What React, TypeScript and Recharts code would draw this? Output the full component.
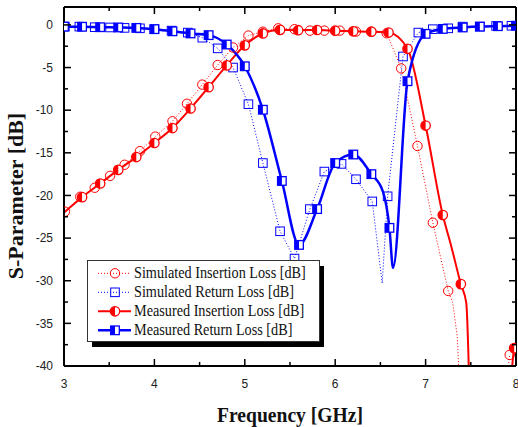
import React from 'react';
import { LineChart, Line, XAxis, YAxis, ReferenceLine, Legend } from 'recharts';

const CHART_W = 518;
const CHART_H = 427;
const PLOT_TOP = 7;
const PLOT_RIGHT = 516;
const Y_MAX = 2.1;

const xTicks = [3, 3.5, 4, 4.5, 5, 5.5, 6, 6.5, 7, 7.5, 8];
const yTicks = [-40, -37.5, -35, -32.5, -30, -27.5, -25, -22.5, -20, -17.5, -15, -12.5, -10, -7.5, -5, -2.5, 0];

const seriesNames = [
  'Simulated Insertion Loss [dB]',
  'Simulated Return Loss [dB]',
  'Measured Insertion Loss [dB]',
  'Measured Return Loss [dB]',
];

// simulated insertion loss (S21)
const simIlFreq = [3.01, 3.18, 3.34, 3.51, 3.67, 3.84, 4.01, 4.2, 4.36, 4.53, 4.7, 4.87, 5.04, 5.2, 5.37, 5.55, 5.72, 5.88, 6.05, 6.23, 6.4, 6.57, 6.73, 6.91, 7.08, 7.25, 7.3, 7.35, 7.37, 7.4, 7.88, 7.91, 7.93];
const simIlDb = [-21.9, -20.15, -19.1, -17.7, -16.4, -14.8, -13.1, -11.3, -9.25, -7.0, -4.7, -2.65, -1.25, -0.8, -0.4, -0.5, -0.67, -0.67, -0.67, -0.78, -0.78, -0.98, -5.1, -14.2, -23.2, -31.2, -32.6, -36.5, -41, -55, -50, -40.5, -38.7];
const simIlNoMark = [7.3, 7.35, 7.37, 7.4, 7.88, 7.91];

// simulated return loss (S11)
const simRlFreq = [3.01, 3.17, 3.34, 3.51, 3.67, 3.84, 4.0, 4.19, 4.37, 4.53, 4.7, 4.87, 5.04, 5.2, 5.39, 5.55, 5.72, 5.88, 6.07, 6.23, 6.41, 6.52, 6.58, 6.75, 6.92, 7.08, 7.25, 7.41, 7.6, 7.78, 7.95];
const simRlDb = [-0.2, -0.2, -0.27, -0.3, -0.35, -0.4, -0.5, -0.67, -0.9, -1.5, -2.75, -5.0, -9.3, -16.2, -24.2, -27.4, -21.6, -17.2, -16.3, -18.1, -20.7, -30.3, -20.1, -3.7, -0.9, -0.5, -0.4, -0.2, -0.2, -0.12, -0.1];
const simRlNoMark = [6.52];

// measured insertion loss
const measIlFreq = [3.0, 3.2, 3.4, 3.6, 3.8, 4.0, 4.2, 4.4, 4.6, 4.8, 5.0, 5.2, 5.39, 5.59, 5.8, 6.0, 6.2, 6.4, 6.59, 6.8, 7.0, 7.19, 7.28, 7.39, 7.45, 7.48, 7.52, 7.94, 7.98, 8.0];
const measIlDb = [-22.0, -20.2, -18.6, -17.0, -15.5, -13.85, -12.1, -9.8, -7.3, -4.75, -2.4, -1.0, -0.58, -0.62, -0.6, -0.68, -0.75, -0.8, -0.9, -2.8, -11.8, -22.3, -25.8, -30.4, -32.6, -41, -60, -42, -37.9, -37.4];
const measIlNoMark = [3.0, 7.28, 7.45, 7.48, 7.52, 7.94, 8.0];

// measured return loss
const measRlFreq = [3.0, 3.2, 3.4, 3.6, 3.8, 4.0, 4.2, 4.4, 4.6, 4.8, 5.0, 5.2, 5.41, 5.6, 5.8, 6.0, 6.2, 6.4, 6.53, 6.6, 6.64, 6.8, 7.0, 7.19, 7.41, 7.6, 7.8, 8.0];
const measRlDb = [-0.2, -0.22, -0.27, -0.3, -0.35, -0.5, -0.75, -1.0, -1.2, -2.3, -4.85, -9.95, -18.3, -25.8, -21.6, -16.2, -15.2, -17.5, -19.6, -23.8, -28.5, -6.6, -1.05, -0.47, -0.3, -0.2, -0.15, -0.1];
const measRlNoMark = [6.53, 6.64];

const rows = (f: number[], db: number[], noMark: number[]) =>
  f.map((x, i) => ({ f: x, db: db[i], mark: !noMark.includes(x) }));

const simIl = rows(simIlFreq, simIlDb, simIlNoMark);
const simRl = rows(simRlFreq, simRlDb, simRlNoMark);
const measIl = rows(measIlFreq, measIlDb, measIlNoMark);
const measRl = rows(measRlFreq, measRlDb, measRlNoMark);

const RED = '#FF0000';
const BLUE = '#0000FF';
const SERIF = "'Liberation Serif', 'Times New Roman', serif";
const SANS = "'Liberation Sans', Arial, sans-serif";

// marker shapes
const marker = (kind: string, cx: number, cy: number, key?: string) => {
  const r = 4.7;
  const s = 4.3;
  if (kind === 'openCircle') {
    return <circle key={key} cx={cx} cy={cy} r={r} fill="none" stroke={RED} strokeWidth={1} />;
  }
  if (kind === 'halfCircle') {
    return (
      <g key={key}>
        <circle cx={cx} cy={cy} r={r} fill="#fff" stroke={RED} strokeWidth={1.3} />
        <path d={`M${cx},${cy - r} A${r},${r} 0 0,0 ${cx},${cy + r} Z`} fill={RED} />
      </g>
    );
  }
  if (kind === 'openSquare') {
    return <rect key={key} x={cx - s} y={cy - s} width={2 * s} height={2 * s} fill="none" stroke={BLUE} strokeWidth={1} />;
  }
  return (
    <g key={key}>
      <rect x={cx - s} y={cy - s} width={2 * s} height={2 * s} fill="#fff" stroke={BLUE} strokeWidth={1.3} />
      <rect x={cx - s} y={cy - s} width={s} height={2 * s} fill={BLUE} />
    </g>
  );
};

const dotFor = (kind: string) => (p: any) => {
  const { cx, cy, payload, index } = p;
  const key = `${kind}-${index}`;
  if (cx == null || cy == null || !payload || !payload.mark) return <g key={key} />;
  return marker(kind, cx, cy, key);
};

const XTick = (p: any) => {
  const { x, y, payload } = p;
  const v = payload.value;
  const major = Number.isInteger(v);
  const len = major ? 7 : 4;
  return (
    <g>
      <line x1={x} y1={y} x2={x} y2={y - len} stroke="#000" strokeWidth={1.5} />
      <line x1={x} y1={PLOT_TOP} x2={x} y2={PLOT_TOP + len} stroke="#000" strokeWidth={1.5} />
      {major && (
        <text x={x} y={y + 22} textAnchor="middle" fontFamily={SANS} fontSize={12} fill="#222">
          {v}
        </text>
      )}
    </g>
  );
};

const YTick = (p: any) => {
  const { x, y, payload } = p;
  const v = payload.value;
  const major = v % 5 === 0;
  const len = major ? 7 : 4;
  return (
    <g>
      <line x1={x} y1={y} x2={x + len} y2={y} stroke="#000" strokeWidth={1.5} />
      <line x1={PLOT_RIGHT} y1={y} x2={PLOT_RIGHT - len} y2={y} stroke="#000" strokeWidth={1.5} />
      {major && (
        <text x={x - 11} y={y + 4.3} textAnchor="end" fontFamily={SANS} fontSize={12} fill="#222">
          {v}
        </text>
      )}
    </g>
  );
};

const legendKinds = [
  { kind: 'openCircle', color: RED, dash: '1 2', width: 1 },
  { kind: 'openSquare', color: BLUE, dash: '1 2', width: 1 },
  { kind: 'halfCircle', color: RED, dash: undefined, width: 2 },
  { kind: 'halfSquare', color: BLUE, dash: undefined, width: 2.5 },
];

const LegendBox = () => (
  <svg width={240} height={92} style={{ display: 'block' }}>
    <rect x={5} y={6} width={232} height={81} fill="#000" />
    <rect x={0.5} y={0.5} width={232} height={81} fill="#fff" stroke="#333" strokeWidth={1} />
    {legendKinds.map((k, i) => {
      const cy = 13.3 + i * 19;
      return (
        <g key={seriesNames[i]}>
          <line x1={11} y1={cy} x2={44} y2={cy} stroke={k.color} strokeWidth={k.width} strokeDasharray={k.dash} />
          {marker(k.kind, 28, cy)}
          <text
            transform={`translate(47,${cy + 4.2}) scale(0.89,1)`}
            fontFamily={SERIF}
            fontSize={16}
            fill="#111"
          >
            {seriesNames[i]}
          </text>
        </g>
      );
    })}
  </svg>
);

export default function App() {
  return (
    <div style={{ position: 'absolute', left: 0, top: 0, width: CHART_W, height: CHART_H, background: '#fff' }}>
      <LineChart width={CHART_W} height={CHART_H} margin={{ top: PLOT_TOP, right: 2, bottom: 0, left: 0 }}>
        <XAxis
          dataKey="f"
          type="number"
          domain={[3, 8]}
          allowDataOverflow
          ticks={xTicks}
          interval={0}
          tick={<XTick />}
          tickLine={false}
          tickSize={0}
          tickMargin={0}
          height={61}
          axisLine={{ stroke: '#000', strokeWidth: 2 }}
          label={(props: any) => (
            <text
              transform="translate(290,421.5) scale(0.89,1)"
              textAnchor="middle"
              fontFamily={SERIF}
              fontWeight="bold"
              fontSize={22}
              fill="#111"
            >
              Frequency [GHz]
            </text>
          )}
        />
        <YAxis
          type="number"
          domain={[-40, Y_MAX]}
          allowDataOverflow
          ticks={yTicks}
          interval={0}
          tick={<YTick />}
          tickLine={false}
          tickSize={0}
          tickMargin={0}
          width={64}
          axisLine={{ stroke: '#000', strokeWidth: 2 }}
          label={(props: any) => (
            <text
              transform="translate(23,196) rotate(-90)"
              textAnchor="middle"
              fontFamily={SERIF}
              fontWeight="bold"
              fontSize={22}
              fill="#111"
            >
              S-Parameter [dB]
            </text>
          )}
        />
        <ReferenceLine y={Y_MAX} stroke="#000" strokeWidth={2} />
        <ReferenceLine x={8} stroke="#000" strokeWidth={2} />

        <Line
          data={simIl}
          dataKey="db"
          name={seriesNames[0]}
          type="linear"
          stroke={RED}
          strokeWidth={1}
          strokeDasharray="1 2"
          dot={dotFor('openCircle')}
          activeDot={false}
          isAnimationActive={false}
        />
        <Line
          data={simRl}
          dataKey="db"
          name={seriesNames[1]}
          type="linear"
          stroke={BLUE}
          strokeWidth={1}
          strokeDasharray="1 2"
          dot={dotFor('openSquare')}
          activeDot={false}
          isAnimationActive={false}
        />
        <Line
          data={measIl}
          dataKey="db"
          name={seriesNames[2]}
          type="monotone"
          stroke={RED}
          strokeWidth={2}
          dot={dotFor('halfCircle')}
          activeDot={false}
          isAnimationActive={false}
        />
        <Line
          data={measRl}
          dataKey="db"
          name={seriesNames[3]}
          type="monotone"
          stroke={BLUE}
          strokeWidth={2.5}
          dot={dotFor('halfSquare')}
          activeDot={false}
          isAnimationActive={false}
        />
        <Legend
          layout="horizontal"
          verticalAlign="middle"
          align="center"
          width={240}
          height={92}
          wrapperStyle={{ left: 87, top: 260, width: 240, height: 92 }}
          content={() => <LegendBox />}
        />
      </LineChart>
    </div>
  );
}
